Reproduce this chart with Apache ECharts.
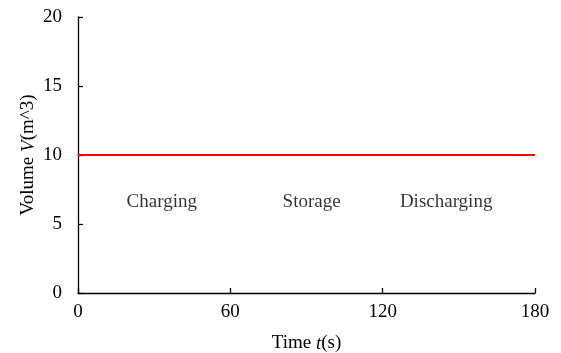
<!DOCTYPE html>
<html>
<head>
<meta charset="utf-8">
<script src="https://cdn.jsdelivr.net/npm/echarts@6/dist/echarts.min.js"></script>
<style>
  html, body { margin: 0; padding: 0; background: #fff; }
  #chart { width: 561px; height: 353px; }
</style>
</head>
<body>
<div id="chart"></div>
<script>
// Constant volume over the charge / storage / discharge cycle
const timeValues = [0, 60, 120, 180];
const volumeValues = [10, 10, 10, 10];

// Phase captions placed in data coordinates
const phaseNames = ['Charging', 'Storage', 'Discharging'];
const phaseX = [33, 92, 145];
const phaseY = [6.6, 6.6, 6.6];

const FONT = '"Liberation Serif", "Times New Roman", serif';
const FS = 19;

const chart = echarts.init(document.getElementById('chart'), null, { renderer: 'canvas' });

const axisCommon = {
  axisLine: { show: true, onZero: false, lineStyle: { color: '#000', width: 1.3 } },
  axisTick: { show: true, inside: true, length: 5, lineStyle: { color: '#000', width: 1.3 } },
  splitLine: { show: false },
  axisLabel: { color: '#000', fontFamily: FONT, fontSize: FS }
};

const nameStyle = {
  color: '#000', fontFamily: FONT, fontSize: FS,
  rich: { i: { fontStyle: 'italic', fontFamily: FONT, fontSize: FS, color: '#000' } }
};

chart.setOption({
  animation: false,
  backgroundColor: '#fff',
  grid: {
    left: 78, right: 26, top: 17, bottom: 60,
    containLabel: false, outerBoundsMode: 'none'
  },
  xAxis: Object.assign({}, axisCommon, {
    type: 'value', min: 0, max: 180, interval: 60,
    name: 'Time {i|t}(s)', nameLocation: 'middle', nameGap: 41,
    nameMoveOverlap: false,
    nameTextStyle: nameStyle,
    axisLabel: Object.assign({}, axisCommon.axisLabel, { margin: 10 })
  }),
  yAxis: Object.assign({}, axisCommon, {
    type: 'value', min: 0, max: 20, interval: 5,
    name: 'Volume {i|V}(m^3)', nameLocation: 'middle', nameGap: 40, nameRotate: 90,
    nameMoveOverlap: false,
    nameTextStyle: nameStyle,
    axisLabel: Object.assign({}, axisCommon.axisLabel, { margin: 16 })
  }),
  series: [
    {
      type: 'line',
      data: timeValues.map((t, i) => [t, volumeValues[i]]),
      showSymbol: false,
      lineStyle: { color: '#ff0000', width: 1.8 },
      z: 3
    },
    {
      type: 'scatter',
      data: phaseNames.map((n, i) => ({ name: n, value: [phaseX[i], phaseY[i]] })),
      symbolSize: 0,
      label: {
        show: true, position: 'inside', formatter: p => p.name,
        color: '#000', fontFamily: FONT, fontSize: FS
      },
      silent: true
    }
  ]
});
</script>
</body>
</html>
